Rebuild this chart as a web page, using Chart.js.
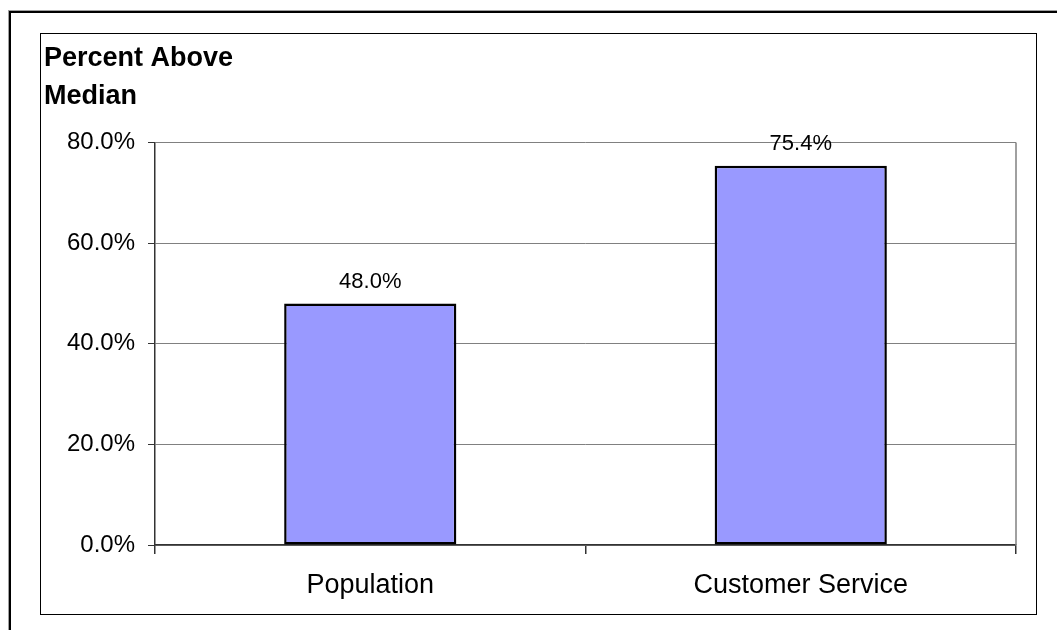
<!DOCTYPE html>
<html>
<head>
<meta charset="utf-8">
<script src="https://cdn.jsdelivr.net/npm/chart.js@4/dist/chart.umd.min.js"></script>
<style>
  html, body { margin: 0; padding: 0; background: #fff; overflow: hidden; }
  #wrap { position: relative; width: 1057px; height: 630px; overflow: hidden; }
  #outer { position: absolute; left: 8px; top: 10px; width: 1200px; height: 800px; border: 1px solid #a0a0a0; box-sizing: border-box; }
  #outer2 { position: absolute; left: 0; top: 0; right: 0; bottom: 0; border: 2px solid #000; }
  #inner { position: absolute; left: 40px; top: 33px; width: 997px; height: 582px; border: 1px solid #000; box-sizing: border-box; }
  canvas { position: absolute; left: 0; top: 0; }
</style>
</head>
<body>
<div id="wrap">
  <div id="outer"><div id="outer2"></div></div>
  <div id="inner"></div>
  <canvas id="c" width="1057" height="630"></canvas>
</div>
<script>
const categories = ['Population', 'Customer Service'];
const values = [48.0, 75.4];
const titleLines = ['Percent Above', 'Median'];
const yMin = 0, yMax = 80, yStep = 20;

const FONT = '"Liberation Sans", Arial, sans-serif';

const frameRight = {
  id: 'frameRight',
  afterDatasetsDraw(chart) {
    const a = chart.chartArea, ctx = chart.ctx;
    ctx.save();
    ctx.strokeStyle = '#808080';
    ctx.lineWidth = 1.5;
    ctx.beginPath();
    ctx.moveTo(a.right, a.top);
    ctx.lineTo(a.right, a.bottom);
    ctx.stroke();
    ctx.restore();
  }
};

const dataLabels = {
  id: 'dataLabels',
  afterDatasetsDraw(chart) {
    const ctx = chart.ctx;
    const meta = chart.getDatasetMeta(0);
    ctx.save();
    ctx.font = '22px ' + FONT;
    ctx.fillStyle = '#000';
    ctx.textAlign = 'center';
    ctx.textBaseline = 'alphabetic';
    meta.data.forEach((el, i) => {
      ctx.fillText(values[i].toFixed(1) + '%', el.x, el.y - 16);
    });
    ctx.restore();
  }
};

new Chart(document.getElementById('c'), {
  type: 'bar',
  data: {
    labels: categories,
    datasets: [{
      data: values,
      backgroundColor: '#9999FF',
      borderColor: '#000',
      borderWidth: 2.5,
      borderSkipped: false,
      categoryPercentage: 0.8,
      barPercentage: 0.5
    }]
  },
  options: {
    responsive: false,
    animation: false,
    events: [],
    layout: { padding: { left: 44, right: 41, top: 10, bottom: 20 } },
    plugins: {
      legend: { display: false },
      tooltip: { enabled: false },
      title: {
        display: true,
        text: titleLines,
        align: 'start',
        color: '#000',
        font: { family: FONT, size: 27, weight: 'bold', lineHeight: 1.4 },
        padding: { top: 30, bottom: 27 }
      }
    },
    scales: {
      x: {
        offset: true,
        grid: { display: true, drawOnChartArea: false, drawTicks: true, tickLength: 9, tickColor: '#333', offset: true, lineWidth: 1.5 },
        border: { display: true, color: '#333', width: 1.5 },
        ticks: { color: '#000', font: { family: FONT, size: 27 }, padding: 15, maxRotation: 0 },
        afterFit(s) { s.height = 65; }
      },
      y: {
        min: yMin, max: yMax,
        grid: { color: '#808080', lineWidth: 1, tickLength: 7, tickColor: '#333' },
        border: { display: true, color: '#333', width: 1.5 },
        ticks: { stepSize: yStep, color: '#000', font: { family: FONT, size: 24 }, padding: 13,
          callback: v => v.toFixed(1) + '%' },
        afterFit(s) { s.width = 111; }
      }
    }
  },
  plugins: [frameRight, dataLabels]
});
</script>
</body>
</html>
